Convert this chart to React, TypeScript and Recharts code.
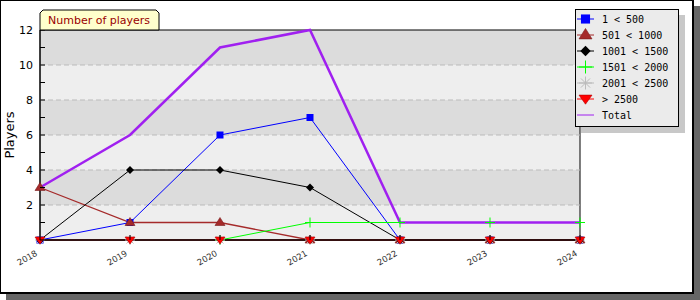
import React from 'react';
import { LineChart, Line, XAxis, YAxis, ReferenceArea, ReferenceLine } from 'recharts';

const years = [2018, 2019, 2020, 2021, 2022, 2023, 2024];
const s1to500 = [0, 1, 6, 7, 0, 0, 0];
const s501to1000 = [3, 1, 1, 0, 0, 0, 0];
const s1001to1500 = [0, 4, 4, 3, 0, 0, 0];
const s1501to2000: (number | null)[] = [null, null, 0, 1, 1, 1, 1];
const s2001to2500 = [0, 0, 0, 0, 0, 0, 0];
const sOver2500 = [0, 0, 0, 0, 0, 0, 0];
const totals = [3, 6, 11, 12, 1, 1, 1];
const yTicks = [0, 1, 2, 3, 4, 5, 6, 7, 8, 9, 10, 11, 12];
const bandStarts = [0, 2, 4, 6, 8, 10];
const gridValues = [2, 4, 6, 8, 10];

const data = years.map((year, i) => ({
  year,
  a: s1to500[i],
  b: s501to1000[i],
  c: s1001to1500[i],
  d: s1501to2000[i],
  e: s2001to2500[i],
  f: sOver2500[i],
  total: totals[i],
}));

type Shape = 'square' | 'triUp' | 'diamond' | 'plus' | 'star' | 'triDown' | 'none';

const series: { key: string; name: string; color: string; shape: Shape; width: number }[] = [
  { key: 'a', name: '1 < 500', color: '#0000ff', shape: 'square', width: 1 },
  { key: 'b', name: '501 < 1000', color: '#a52a2a', shape: 'triUp', width: 1.3 },
  { key: 'c', name: '1001 < 1500', color: '#000000', shape: 'diamond', width: 1 },
  { key: 'd', name: '1501 < 2000', color: '#00ff00', shape: 'plus', width: 1 },
  { key: 'e', name: '2001 < 2500', color: '#bbbbbb', shape: 'star', width: 1 },
  { key: 'f', name: '> 2500', color: '#ff0000', shape: 'triDown', width: 1 },
  { key: 'total', name: 'Total', color: '#a020f0', shape: 'none', width: 2.5 },
];

const Marker = ({ cx, cy, shape, color, s = 1 }: { cx: number; cy: number; shape: Shape; color: string; s?: number }) => {
  if (cx == null || cy == null || isNaN(cx) || isNaN(cy)) return null;
  switch (shape) {
    case 'square':
      return <rect x={cx - 3.5 * s} y={cy - 3.5 * s} width={7 * s} height={7 * s} fill={color} />;
    case 'triUp':
      return (
        <polygon
          points={`${cx},${cy - 5 * s} ${cx - 5 * s},${cy + 3 * s} ${cx + 5 * s},${cy + 3 * s}`}
          fill={color}
          stroke="#7a1f1f"
          strokeWidth={0.6}
        />
      );
    case 'diamond':
      return <polygon points={`${cx},${cy - 4 * s} ${cx + 4 * s},${cy} ${cx},${cy + 4 * s} ${cx - 4 * s},${cy}`} fill={color} />;
    case 'plus':
      return (
        <g stroke={color} strokeWidth={1}>
          <line x1={cx - 5 * s} x2={cx + 5 * s} y1={cy} y2={cy} />
          <line x1={cx} x2={cx} y1={cy - 5 * s} y2={cy + 5 * s} />
        </g>
      );
    case 'star':
      return (
        <g stroke={color} strokeWidth={1}>
          <line x1={cx - 5 * s} x2={cx + 5 * s} y1={cy} y2={cy} />
          <line x1={cx} x2={cx} y1={cy - 5 * s} y2={cy + 5 * s} />
          <line x1={cx - 3.5 * s} x2={cx + 3.5 * s} y1={cy - 3.5 * s} y2={cy + 3.5 * s} />
          <line x1={cx - 3.5 * s} x2={cx + 3.5 * s} y1={cy + 3.5 * s} y2={cy - 3.5 * s} />
        </g>
      );
    case 'triDown':
      return (
        <polygon
          points={`${cx - 5 * s},${cy - 3 * s} ${cx + 5 * s},${cy - 3 * s} ${cx},${cy + 4 * s}`}
          fill={color}
          stroke="#b00000"
          strokeWidth={0.6}
        />
      );
    default:
      return null;
  }
};

const YTick = (props: any) => {
  const { x, y, payload } = props;
  const v = payload.value;
  return (
    <g>
      <line x1={x} x2={x + 5} y1={y} y2={y} stroke="#000" />
      {v % 2 === 0 && v !== 0 && (
        <text x={x - 7} y={y} dy={4} textAnchor="end" fontSize={11} fontFamily="DejaVu Sans" fill="#000">
          {v}
        </text>
      )}
    </g>
  );
};

const XTick = (props: any) => {
  const { x, y, payload } = props;
  const tx = x - 2;
  const ty = y + 15;
  return (
    <g>
      <line x1={x} x2={x} y1={y - 5} y2={y} stroke="#000" />
      <text
        x={tx}
        y={ty}
        textAnchor="end"
        fontSize={8.5}
        fontFamily="DejaVu Sans"
        fill="#333"
        transform={`rotate(-30 ${tx} ${ty})`}
      >
        {payload.value}
      </text>
    </g>
  );
};

const YLabel = (props: any) => {
  const vb = props.viewBox || { x: 0, y: 30, width: 40, height: 210 };
  const x = vb.x + 14;
  const y = vb.y + vb.height / 2;
  return (
    <text
      x={x}
      y={y}
      textAnchor="middle"
      fontSize={13}
      fontFamily="DejaVu Sans"
      fill="#000"
      transform={`rotate(-90 ${x} ${y})`}
    >
      Players
    </text>
  );
};

const LegendBox = () => (
  <div
    style={{
      position: 'absolute',
      left: 575,
      top: 9,
      width: 104,
      height: 118,
      boxSizing: 'border-box',
      border: '1px solid #000',
      background: '#ebebeb',
      boxShadow: '6px 6px 0 #c8c8c8',
    }}
  >
    <svg width={102} height={116} style={{ display: 'block' }}>
      {series.map((s, i) => {
        const cy = 9 + i * 16;
        return (
          <g key={s.key}>
            <line x1={1} x2={18} y1={cy} y2={cy} stroke={s.color} strokeWidth={1} />
            <Marker cx={9.5} cy={cy} shape={s.shape} color={s.color} s={1.3} />
            <text x={26} y={cy + 3.5} fontSize={10} fontFamily="DejaVu Sans Mono" fill="#000">
              {s.name}
            </text>
          </g>
        );
      })}
    </svg>
  </div>
);

export default function App() {
  return (
    <div style={{ position: 'absolute', left: 0, top: 0, width: 700, height: 300, background: '#fff' }}>
      <div
        style={{
          position: 'absolute',
          left: 0,
          top: 0,
          width: 694,
          height: 294,
          boxSizing: 'border-box',
          borderLeft: '1px solid #000',
          borderTop: '1px solid #000',
          borderRight: '2px solid #000',
          borderBottom: '2px solid #000',
          background: '#fff',
          boxShadow: '6px 6px 0 #666',
        }}
      />
      <div style={{ position: 'absolute', left: 0, top: 0 }}>
        <LineChart width={700} height={300} data={data} margin={{ top: 30, right: 120, bottom: 30, left: 0 }}>
          {bandStarts.map((b, i) => (
            <ReferenceArea
              key={`band-${b}`}
              x1={2018}
              x2={2024}
              y1={b}
              y2={b + 2}
              fill={i % 2 === 0 ? '#eeeeee' : '#dcdcdc'}
              fillOpacity={1}
              stroke="none"
            />
          ))}
          {gridValues.map((g) => (
            <ReferenceLine key={`grid-${g}`} y={g} stroke="#bbbbbb" strokeDasharray="5 3" />
          ))}
          <ReferenceArea x1={2018} x2={2024} y1={0} y2={12} fill="none" stroke="#000" strokeWidth={1} />
          <XAxis
            dataKey="year"
            type="number"
            domain={[2018, 2024]}
            ticks={years}
            height={30}
            tickSize={0}
            tickMargin={0}
            tickLine={false}
            axisLine={{ stroke: '#000' }}
            tick={<XTick />}
            interval={0}
          />
          <YAxis
            type="number"
            domain={[0, 12]}
            ticks={yTicks}
            width={40}
            tickSize={0}
            tickMargin={0}
            tickLine={false}
            axisLine={{ stroke: '#000' }}
            tick={<YTick />}
            interval={0}
            label={{ content: (p: any) => <YLabel {...p} /> }}
          />
          {series.map((s) => (
            <Line
              key={s.key}
              dataKey={s.key}
              name={s.name}
              type="linear"
              stroke={s.color}
              strokeWidth={s.width}
              isAnimationActive={false}
              connectNulls={false}
              dot={
                s.shape === 'none'
                  ? false
                  : (p: any) => <Marker key={`${s.key}-${p.index}`} cx={p.cx} cy={p.cy} shape={s.shape} color={s.color} />
              }
              activeDot={false}
            />
          ))}
          <ReferenceLine y={0} stroke="#000" strokeWidth={1} {...({ zIndex: 450 } as any)} />
        </LineChart>
      </div>
      <svg width={700} height={40} style={{ position: 'absolute', left: 0, top: 0 }}>
        <polygon points="40,30 40,13 43,10 156,10 159,13 159,30" fill="#ffffcc" stroke="#000" strokeWidth={1} />
        <text x={48} y={24} fontSize={11} fontFamily="DejaVu Sans" fill="#990000">
          Number of players
        </text>
      </svg>
      <LegendBox />
    </div>
  );
}
